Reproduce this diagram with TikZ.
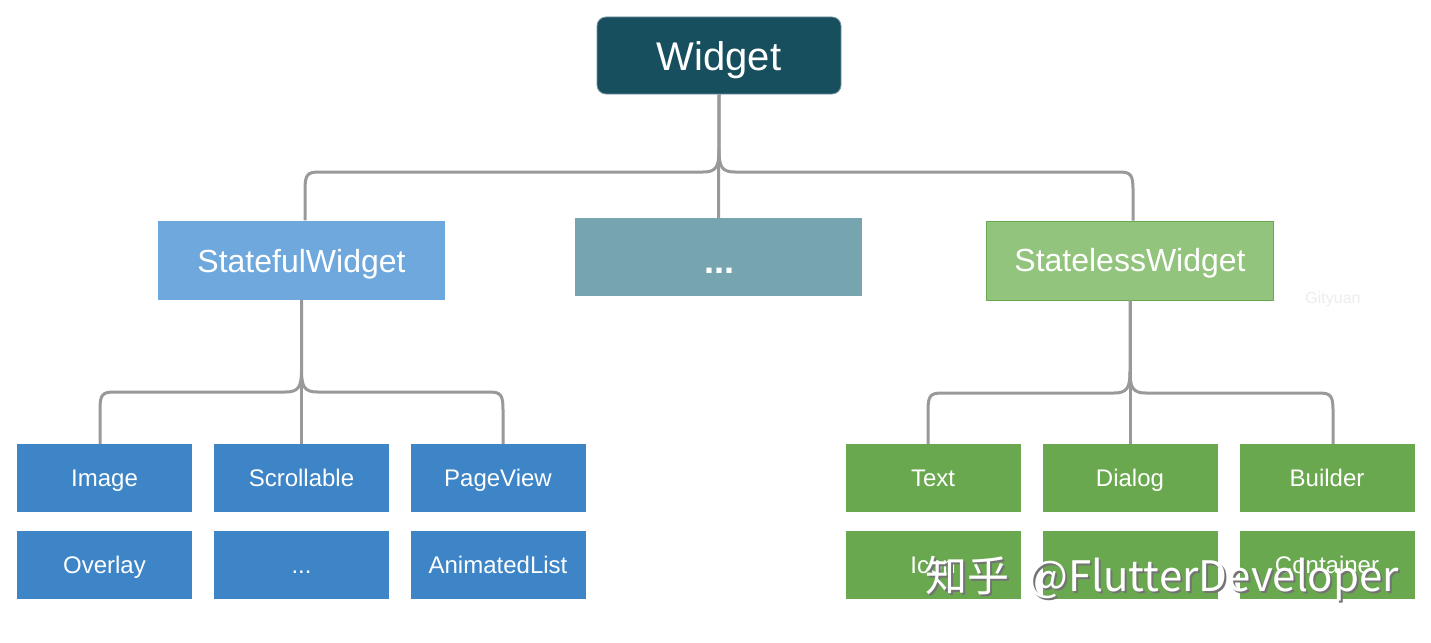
\documentclass[tikz,border=0pt]{standalone}
\usepackage{fontspec}
\setmainfont{Liberation Sans}
\newfontfamily\cjkfont{Noto Sans CJK SC}
\usetikzlibrary{calc}
\definecolor{widgetc}{HTML}{174F5E}
\definecolor{statefulc}{HTML}{6FA8DC}
\definecolor{dotsc}{HTML}{76A5AF}
\definecolor{statelessc}{HTML}{93C47D}
\definecolor{bluec}{HTML}{3D85C6}
\definecolor{greenc}{HTML}{6AA84F}
\definecolor{connc}{HTML}{999999}
\tikzset{
  box/.style={inner sep=0pt, text=white},
  leaf/.style={box, minimum width=175pt, minimum height=68pt, font=\fontsize{24}{28}\selectfont, text height=19pt, text depth=1.8pt},
  bleaf/.style={leaf, fill=bluec},
  gleaf/.style={leaf, fill=greenc},
  mid/.style={box, minimum width=287pt, minimum height=79pt, font=\fontsize{32}{38}\selectfont, text height=27pt, text depth=1.4pt},
  conn/.style={draw=connc, line width=3pt, line join=round},
}
\begin{document}
\begin{tikzpicture}[x=1pt,y=-1pt]
\fill[white] (0,0) rectangle (1431,642);
\useasboundingbox (0,0) rectangle (1431,642);

% nodes
\node[box, fill=widgetc, draw=widgetc!60!white, line width=0.8pt, rounded corners=9pt,
      minimum width=244pt, minimum height=77pt, font=\fontsize{40}{46}\selectfont,
      text height=33pt, text depth=3pt] (widget) at (719,55.5) {Widget};
\node[mid, fill=statefulc] (stateful) at (301.5,260) {StatefulWidget};
\node[mid, fill=dotsc, minimum height=78pt, text height=0pt, text depth=0pt] (dots) at (718.5,257) {};
\node[text=white, font=\fontsize{36}{40}\selectfont\bfseries, inner sep=0pt] (dotsT) at (719,271) {...};
\node[mid, fill=statelessc, draw=greenc, line width=0.8pt, text height=25pt, text depth=2.4pt] (stateless) at (1130,260.5) {StatelessWidget};

\node[bleaf] (image) at (104.5,478) {Image};
\node[bleaf] (scroll) at (301.5,478) {Scrollable};
\node[bleaf] (pageview) at (498,478) {PageView};
\node[bleaf] (overlay) at (104.5,564.5) {Overlay};
\node[bleaf] (bdots) at (301.5,564.5) {...};
\node[bleaf] (animlist) at (498,564.5) {AnimatedList};

\node[gleaf] (text) at (933,478) {Text};
\node[gleaf] (dialog) at (1130,478) {Dialog};
\node[gleaf] (builder) at (1327,478) {Builder};
\node[gleaf] (icon) at (933,564.5) {Icon};
\node[gleaf] (gmid) at (1130,564.5) {};
\node[gleaf] (container) at (1327,564.5) {Container};

% top brace
\coordinate (hubT) at (widget.south |- 0,172);
\coordinate (tl) at ($(stateful.north |- hubT)+(3.5,0)$);
\coordinate (tr) at ($(stateless.north |- hubT)+(3,0)$);
\draw[conn] (widget.south) -- ($(hubT)+(0,-22)$)
  .. controls ($(hubT)+(0,-5)$) and ($(hubT)+(-3,0)$) .. ($(hubT)+(-16,0)$)
  -- ($(tl)+(14,0)$)
  .. controls ($(tl)+(2,0)$) and ($(tl)+(0,3)$) .. ($(tl)+(0,18)$)
  -- ($(stateful.north)+(3.5,0)$);
\draw[conn] ($(hubT)+(0,-22)$)
  .. controls ($(hubT)+(0,-5)$) and ($(hubT)+(3,0)$) .. ($(hubT)+(16,0)$)
  -- ($(tr)+(-14,0)$)
  .. controls ($(tr)+(-2,0)$) and ($(tr)+(0,3)$) .. ($(tr)+(0,18)$)
  -- ($(stateless.north)+(3,0)$);
\draw[conn] (widget.south) -- (dots.north);

% left sub-brace
\coordinate (hubL) at (stateful.south |- 0,392);
\coordinate (ll) at ($(image.north |- hubL)+(-4.5,0)$);
\coordinate (lr) at ($(pageview.north |- hubL)+(5,0)$);
\draw[conn] (stateful.south) -- ($(hubL)+(0,-22)$)
  .. controls ($(hubL)+(0,-5)$) and ($(hubL)+(-3,0)$) .. ($(hubL)+(-16,0)$)
  -- ($(ll)+(14,0)$)
  .. controls ($(ll)+(2,0)$) and ($(ll)+(0,3)$) .. ($(ll)+(0,18)$)
  -- ($(image.north)+(-4.5,0)$);
\draw[conn] ($(hubL)+(0,-22)$)
  .. controls ($(hubL)+(0,-5)$) and ($(hubL)+(3,0)$) .. ($(hubL)+(16,0)$)
  -- ($(lr)+(-14,0)$)
  .. controls ($(lr)+(-2,0)$) and ($(lr)+(0,3)$) .. ($(lr)+(0,18)$)
  -- ($(pageview.north)+(5,0)$);
\draw[conn] (stateful.south) -- (scroll.north);

% right sub-brace
\coordinate (hubR) at (stateless.south |- 0,393);
\coordinate (rl) at ($(text.north |- hubR)+(-5,0)$);
\coordinate (rr) at ($(builder.north |- hubR)+(6,0)$);
\draw[conn] (stateless.south) -- ($(hubR)+(0,-22)$)
  .. controls ($(hubR)+(0,-5)$) and ($(hubR)+(-3,0)$) .. ($(hubR)+(-16,0)$)
  -- ($(rl)+(14,0)$)
  .. controls ($(rl)+(2,0)$) and ($(rl)+(0,3)$) .. ($(rl)+(0,18)$)
  -- ($(text.north)+(-5,0)$);
\draw[conn] ($(hubR)+(0,-22)$)
  .. controls ($(hubR)+(0,-5)$) and ($(hubR)+(3,0)$) .. ($(hubR)+(16,0)$)
  -- ($(rr)+(-14,0)$)
  .. controls ($(rr)+(-2,0)$) and ($(rr)+(0,3)$) .. ($(rr)+(0,18)$)
  -- ($(builder.north)+(6,0)$);
\draw[conn] (stateless.south) -- (dialog.north);

% faint label
\node[text=black!7, font=\fontsize{16}{18}\selectfont, inner sep=0pt] (gity) at (1333,299) {Gityuan};

% watermark
\node[anchor=base west, inner sep=0pt, text=black!55, font=\cjkfont\fontsize{42}{48}\selectfont] (wmshadow) at (927,593) {知乎\hspace{10pt} @FlutterDeveloper};
\node[anchor=base west, inner sep=0pt, text=white, font=\cjkfont\fontsize{42}{48}\selectfont] (wm) at (925,591) {知乎\hspace{10pt} @FlutterDeveloper};
\end{tikzpicture}
\end{document}
